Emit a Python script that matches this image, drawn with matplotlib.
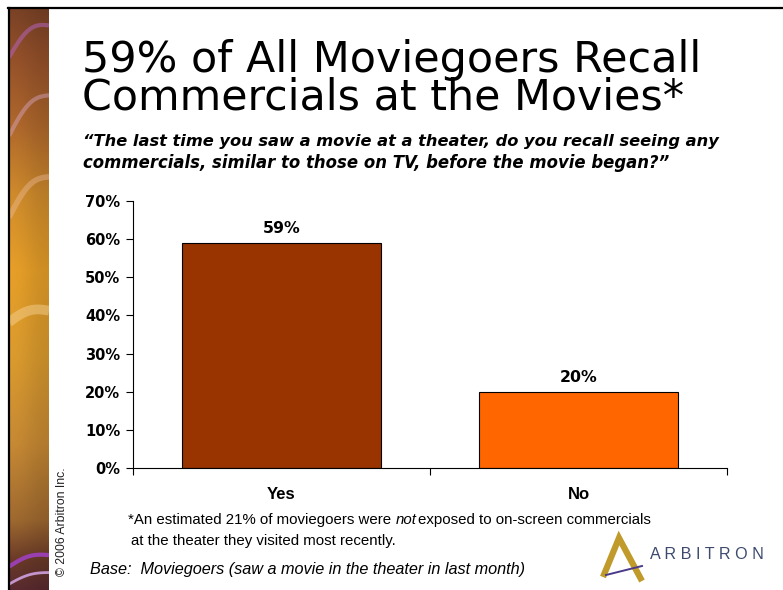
import numpy as np
import matplotlib
matplotlib.use("Agg")
import matplotlib.pyplot as plt
from matplotlib.lines import Line2D
from matplotlib.colors import to_rgb

categories = ["Yes", "No"]
values = [59, 20]
bar_colors = ["#993300", "#FF6600"]
yticks = [0, 10, 20, 30, 40, 50, 60, 70]
ytick_labels = ["0%", "10%", "20%", "30%", "40%", "50%", "60%", "70%"]

W, H = 783, 590
fig = plt.figure(figsize=(W / 100, H / 100), dpi=100)
fig.patch.set_facecolor("white")
fig.canvas.draw()
R = fig.canvas.get_renderer()

def fx(x):
    return x / W

def fy(y):
    return 1 - y / H

def fit_text(xpx, ybase, s, target_w, **kw):
    t = fig.text(fx(xpx), fy(ybase), s, fontsize=10, va="baseline", ha="left", **kw)
    w = t.get_window_extent(R).width
    t.set_fontsize(10 * target_w / w)
    return t

# decorative left strip
strip = fig.add_axes([fx(9), 0, fx(49) - fx(9), fy(8)])
stops_y = [0, 0.08, 0.2, 0.32, 0.45, 0.6, 0.75, 0.88, 0.95, 1.0]
stops_c = ["#7a4226", "#94502a", "#b0682c", "#d08c2c", "#e8a028",
           "#dc9c2e", "#c88a34", "#a06a30", "#6a3a28", "#5a2a30"]
n = 400
ys = np.linspace(0, 1, n)
cols = np.array([to_rgb(c) for c in stops_c])
img = np.zeros((n, 2, 3))
for k in range(3):
    img[:, 0, k] = np.interp(ys, stops_y, cols[:, k])
    img[:, 1, k] = np.clip(img[:, 0, k] * 0.88, 0, 1)
strip.imshow(img, aspect="auto", extent=[0, 1, 1, 0], interpolation="bicubic")
t = np.linspace(0, 1, 60)
for (y0, y1, bend, c, a, lw) in [(0.085, 0.03, 0.02, "#b060b0", 0.6, 3),
                                  (0.22, 0.15, 0.02, "#d8a8c8", 0.45, 3),
                                  (0.36, 0.29, 0.02, "#f0c0a0", 0.4, 4),
                                  (0.54, 0.52, 0.01, "#f5d090", 0.5, 7),
                                  (0.96, 0.94, 0.008, "#a040c0", 0.9, 3),
                                  (0.99, 0.97, 0.006, "#d0a0e0", 0.9, 2)]:
    strip.plot(t, y0 + (y1 - y0) * t - bend * np.sin(np.pi * t), color=c, alpha=a, lw=lw,
               solid_capstyle="butt")
strip.set_xlim(0, 1)
strip.set_ylim(1, 0)
strip.axis("off")

# frame lines
fig.add_artist(Line2D([fx(8), 1], [fy(7.5), fy(7.5)], color="black", lw=1.6))
fig.add_artist(Line2D([fx(8.5), fx(8.5)], [0, fy(7.5)], color="black", lw=1.6))

# chart axes
ax = fig.add_axes([fx(133), fy(468), fx(727) - fx(133), fy(201) - fy(468)])
x = np.arange(len(categories))
ax.bar(x, values, width=0.667, color=bar_colors, edgecolor="black", linewidth=0.8)
ax.set_xlim(-0.5, 1.5)
ax.set_ylim(0, 70)
ax.set_yticks(yticks)
ax.set_yticklabels(ytick_labels, fontsize=10.5, fontweight="bold", family="DejaVu Sans")
ax.set_xticks(x)
ax.set_xticklabels(categories, fontsize=12, fontweight="bold", family="Liberation Sans")
ax.tick_params(axis="x", which="major", length=0, pad=14)
ax.set_xticks([-0.5, 0.5, 1.5], minor=True)
ax.tick_params(axis="x", which="minor", length=5, width=0.8, direction="out")
ax.tick_params(axis="y", length=5, width=0.8, direction="out", pad=4)
for s in ["top", "right"]:
    ax.spines[s].set_visible(False)
for s in ["left", "bottom"]:
    ax.spines[s].set_linewidth(0.8)
for xi, v in zip(x, values):
    ax.annotate(f"{v}%", (xi, v), xytext=(0, 5), textcoords="offset points",
                ha="center", va="bottom", fontsize=11.3, fontweight="bold", family="DejaVu Sans")

# titles
fit_text(82, 72, "59% of All Moviegoers Recall", 618, family="DejaVu Sans", color="black")
fit_text(82, 110, "Commercials at the Movies*", 603, family="DejaVu Sans", color="black")
fit_text(83, 146, "\u201cThe last time you saw a movie at a theater, do you recall seeing any", 637,
         fontweight="bold", style="italic", family="DejaVu Sans")
fit_text(83, 168, "commercials, similar to those on TV, before the movie began?\u201d", 586,
         fontweight="bold", style="italic", family="DejaVu Sans")

# footnote
fn_family = ["Liberation Sans Narrow", "Liberation Sans"]
fs_fn = 10.8
t1 = fig.text(fx(128), fy(524), "*An estimated 21% of moviegoers were ", fontsize=fs_fn,
              family=fn_family, va="baseline")
bb = t1.get_window_extent(R)
t2 = fig.text(bb.x1 / W, fy(524), "not", fontsize=fs_fn, style="italic", family=fn_family, va="baseline")
bb2 = t2.get_window_extent(R)
fig.text(bb2.x1 / W + 2 / W, fy(524), "exposed to on-screen commercials", fontsize=fs_fn,
         family=fn_family, va="baseline")
fig.text(fx(131), fy(545), "at the theater they visited most recently.", fontsize=fs_fn,
         family=fn_family, va="baseline")

fig.text(fx(90), fy(574), "Base:  Moviegoers (saw a movie in the theater in last month)",
         fontsize=11.7, style="italic", family="Liberation Sans", va="baseline")

fig.text(fx(62), fy(522), "\u00a9 2006 Arbitron Inc.", rotation=90, fontsize=8.8,
         family="Liberation Sans", ha="center", va="center", color="#222222")

# logo
fig.add_artist(Line2D([fx(603), fx(619), fx(642)], [fy(577), fy(538), fy(581)],
                      color="#c09a2a", lw=4.5, solid_joinstyle="miter", solid_capstyle="butt"))
fig.add_artist(Line2D([fx(606), fx(642)], [fy(575), fy(566)], color="#4a3a8a", lw=1.4))
fit_text(650, 559, "A R B I T R O N", 113, family="Liberation Sans", color="#3d4a6e")

fig.savefig("out.png", dpi=100, facecolor="white")
